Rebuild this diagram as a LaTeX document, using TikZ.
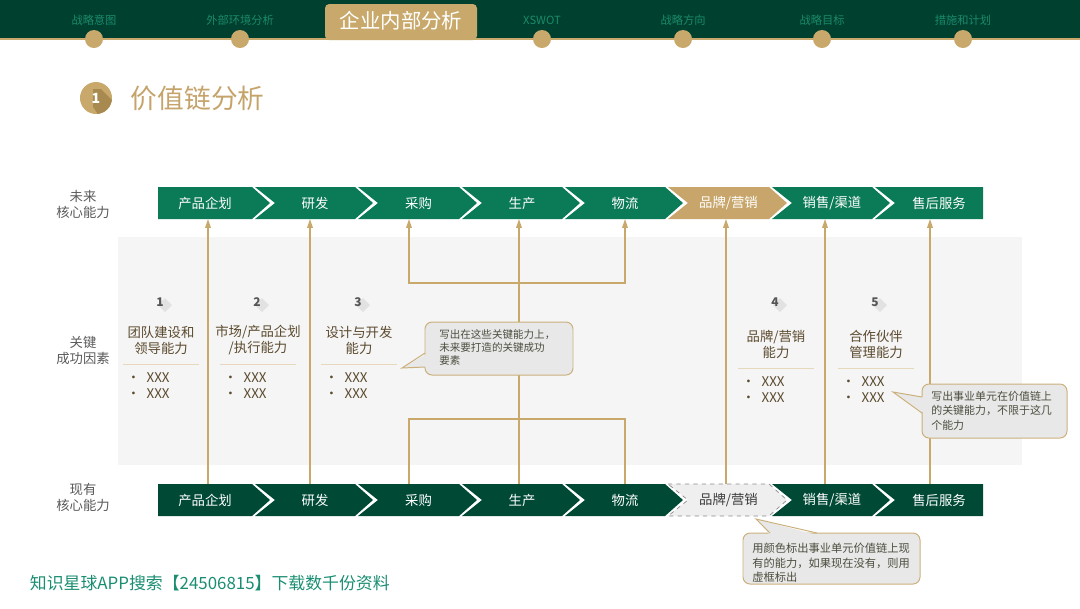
\documentclass[tikz,border=0pt]{standalone}
\usepackage{fontspec}
\setmainfont{Noto Sans CJK SC}
\usepackage{xcolor}
\usetikzlibrary{positioning,arrows.meta}
\definecolor{hdrgreen}{HTML}{00402F}
\definecolor{tabgold}{HTML}{C9A96B}
\definecolor{stepteal}{HTML}{1B8A6A}
\definecolor{futuregreen}{HTML}{0B7A56}
\definecolor{nowgreen}{HTML}{004A35}
\definecolor{brandgold}{HTML}{C8A66B}
\definecolor{gapfill}{HTML}{EFEFEF}
\definecolor{gapedge}{HTML}{8A8A8A}
\definecolor{gaptext}{HTML}{3A3A3A}
\definecolor{panelgrey}{HTML}{F5F5F5}
\definecolor{linegold}{HTML}{C9A96B}
\definecolor{cardtext}{HTML}{5B4A2E}
\definecolor{numgrey}{HTML}{555555}
\definecolor{numshade}{HTML}{E2E2E2}
\definecolor{sidegrey}{HTML}{5A5A5A}
\definecolor{calloutfill}{HTML}{E7E8E7}
\definecolor{calloutedge}{HTML}{CBB07C}
\definecolor{calltext}{HTML}{4D4D3F}
\definecolor{titlegold}{HTML}{C5A46C}
\definecolor{goldshade}{HTML}{A8894F}
\definecolor{promoteal}{HTML}{1A8E72}

% one chevron of the value chain: left, right, notch, tip, centre y
\newcommand{\chevpath}[5]{(#1,#5-16) -- (#2,#5-16) -- (#2+#4,#5) -- (#2,#5+16) -- (#1,#5+16) -- (#1+#3,#5) -- cycle}

\begin{document}
\begin{tikzpicture}[x=0.025cm, y=-0.025cm,
  steplbl/.style={text=stepteal, font=\fontsize{8}{9}\selectfont},
  seglbl/.style={font=\fontsize{9.5}{11}\selectfont, inner sep=0pt},
  sidelbl/.style={text=sidegrey, align=center, font=\fontsize{9.5}{11.4}\selectfont},
  cardnum/.style={text=numgrey, font=\fontsize{8.5}{10}\selectfont\bfseries},
  cardttl/.style={text=cardtext, align=center, font=\fontsize{9.5}{11.4}\selectfont},
  cardxx/.style={text=cardtext, align=left, anchor=west, font=\fontsize{9.5}{11.4}\selectfont},
  sepline/.style={draw=linegold!45, line width=0.6pt},
  uparr/.style={-{Triangle[length=2.2mm, width=1.4mm]}, linegold, line width=0.8pt},
  gline/.style={linegold, line width=0.8pt},
  callout/.style={fill=calloutfill, draw=calloutedge, line width=0.7pt, rounded corners=5pt},
  calltxt/.style={text=calltext, align=left, anchor=north west, inner sep=0pt}
]
\useasboundingbox (0,0) rectangle (1080,608);

% header bar
\fill[hdrgreen] (0,0) rectangle (1080,39);
\draw[tabgold, line width=1.5pt] (0,39) -- (1080,39);
\foreach \x/\lbl in {94/战略意图, 240/外部环境分析, 542/XSWOT, 683/战略方向, 822/战略目标, 963/措施和计划}{
  \node[steplbl] (s\x) at (\x,20) {\lbl};
  \fill[tabgold] (\x,39) circle (0.225cm);
}
\fill[tabgold, rounded corners=3pt] (325,4) rectangle (477,40);
\node[text=white, font=\fontsize{14.5}{16}\selectfont] (tabnow) at (401,21) {企业内部分析};

% section title
\fill[tabgold] (96,98) circle (0.4cm);
\begin{scope}
  \clip (96,98) circle (0.4cm);
  \fill[goldshade] (93,89) -- (101,89) -- (130,118) -- (110,132) -- (93,107) -- cycle;
\end{scope}
\node[text=white, font=\fontsize{10}{12}\selectfont\bfseries] (secnum) at (96,98) {1};
\node[anchor=west, text=titlegold, font=\fontsize{19}{22}\selectfont] (sectitle) at (126,98) {价值链分析};

% side labels
\node[sidelbl] (lblfuture) at (83,204) {未来\\核心能力};
\node[sidelbl] (lblkey) at (83,350) {关键\\成功因素};
\node[sidelbl] (lblnow) at (83,497) {现有\\核心能力};

% key factor panel
\fill[panelgrey] (118,237) rectangle (1022,465);

% links from current to future chain
\foreach \i/\ax in {1/208,2/310,3/409,4/519,5/625,6/726,7/825,8/930}{
  \coordinate (fa\i) at (\ax,219);
  \coordinate (na\i) at (\ax,484);
}
\coordinate (highbar) at (519,283);
\coordinate (lowbar) at (519,419);
\foreach \i in {1,2,4,6,7,8} \draw[uparr] (na\i) -- (fa\i);
\draw[gline] (na3) |- (lowbar) -| (na5);
\draw[uparr] (highbar) -| (fa3);
\draw[uparr] (highbar) -| (fa5);

% key success factors
\foreach \n/\cx/\ty/\ttl in {1/161/340/{团队建设和\\领导能力}, 2/258/340/{市场/产品企划\\/执行能力}, 3/359/340/{设计与开发\\能力}, 4/776/344/{品牌/营销\\能力}, 5/876/344/{合作伙伴\\管理能力}}{
  \fill[numshade] (\cx+4,298) -- (\cx+11,305) -- (\cx+4,312) -- (\cx-3,305) -- cycle;
  \node[cardnum] (k\n) at (\cx-1,302) {\n};
  \node[cardttl] (c\n) at (\cx,\ty) {\ttl};
  \draw[sepline] (\cx-38,\ty+24) -- (\cx+38,\ty+24);
  \node[cardxx] (x\n) at (\cx-39,\ty+46) {\makebox[14pt][l]{•}XXX\\\makebox[14pt][l]{•}XXX};
}

% value chains
\foreach \i/\lft/\rgt/\nd/\tp/\lbl in {1/158/252/0/18/产品企划, 2/255/355/20/18/研发, 3/358/459/20/18/采购, 4/462/562/20/18/生产, 5/565/665/20/18/物流, 6/668/769/20/18/{品牌/营销}, 7/772/872/20/18/{销售/渠道}, 8/875/983/20/0/售后服务}{
  \ifnum\i=6
    \def\topcol{brandgold}\def\botcol{gapfill}\def\botedge{gapedge}\def\bottxt{gaptext}
  \else
    \def\topcol{futuregreen}\def\botcol{nowgreen}\def\botedge{none}\def\bottxt{white}
  \fi
  \path[fill=\topcol] \chevpath{\lft}{\rgt}{\nd}{\tp}{203};
  \path[fill=\botcol, draw=\botedge, dashed, line width=0.5pt] \chevpath{\lft}{\rgt}{\nd}{\tp}{500};
  \node[seglbl, text=white] (f\i) at ({(\lft+\nd+\rgt)/2},203) {\lbl};
  \node[seglbl, text=\bottxt] (n\i) at ({(\lft+\nd+\rgt)/2},500) {\lbl};
}

% callouts
\path[callout] (425,322) rectangle (573,375);
\fill[calloutfill] (427,354) -- (402,368) -- (427,367) -- cycle;
\draw[calloutedge, line width=0.7pt] (425,353) -- (402,368) -- (425,367);
\node[calltxt, font=\fontsize{7.5}{9.3}\selectfont] (tipfuture) at (439,329) {写出在这些关键能力上，\\未来要打造的关键成功\\要素};

\path[callout] (922,384) rectangle (1067,438);
\fill[calloutfill] (924,397) -- (893,392) -- (924,413) -- cycle;
\draw[calloutedge, line width=0.7pt] (922,397) -- (893,392) -- (922,413);
\node[calltxt, font=\fontsize{7.8}{10.2}\selectfont] (tipfactor) at (931,391) {写出事业单元在价值链上\\的关键能力，不限于这几\\个能力};

\path[callout] (743,533) rectangle (920,584);
\fill[calloutfill] (770,535) -- (756,519) -- (817,535) -- cycle;
\draw[calloutedge, line width=0.7pt] (770,533) -- (756,519) -- (817,533);
\node[calltxt, font=\fontsize{8}{10.3}\selectfont] (tipnow) at (752,543) {用颜色标出事业单元价值链上现\\有的能力，如果现在没有，则用\\虚框标出};

% footer
\node[anchor=west, text=promoteal, font=\fontsize{12}{14}\selectfont] (promo) at (25,583) {知识星球APP搜索【24506815】下载数千份资料};
\end{tikzpicture}
\end{document}
